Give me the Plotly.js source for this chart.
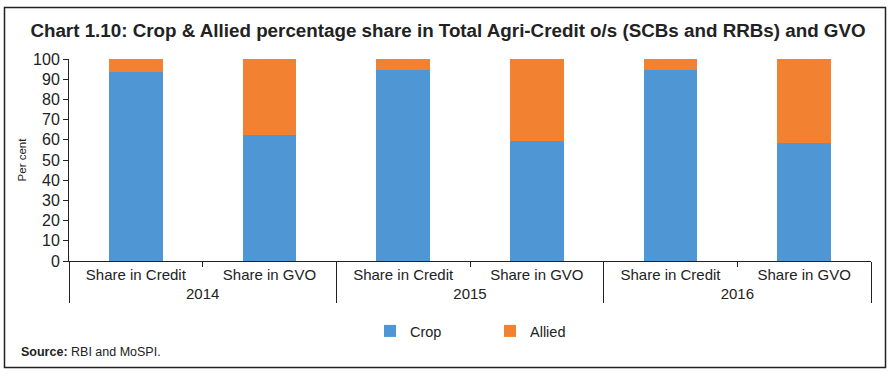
<!DOCTYPE html>
<html>
<head>
<meta charset="utf-8">
<script src="https://cdn.plot.ly/plotly-3.0.1.min.js"></script>
<style>html,body{margin:0;padding:0;background:#fff;}#chart{width:896px;height:379px;}</style>
</head>
<body>
<div id="chart"></div>
<script>
var years = ["2014", "2014", "2015", "2015", "2016", "2016"];
var categories = ["Share in Credit", "Share in GVO", "Share in Credit", "Share in GVO", "Share in Credit", "Share in GVO"];
var cropValues = [93.5, 62.3, 94.5, 59.5, 94.6, 58.2];
var alliedValues = cropValues.map(function (v) { return Math.round((100 - v) * 10) / 10; });
var yTicks = [0, 10, 20, 30, 40, 50, 60, 70, 80, 90, 100];

var W = 896, H = 379, L = 69, R = 25, T = 59, B = 118;
var pw = W - L - R, ph = H - T - B;
function px(x) { return (x - L) / pw; }
function py(y) { return (H - B - y) / ph; }

var font = "Liberation Sans, Arial, sans-serif";
var data = [
  { type: "bar", name: "Crop", x: [years, categories], y: cropValues, marker: { color: "#4F96D4" }, legend: "legend" },
  { type: "bar", name: "Allied", x: [years, categories], y: alliedValues, marker: { color: "#F28232" }, legend: "legend2" }
];
var legStyle = { font: { size: 14.5, family: font, color: "#222" }, bgcolor: "rgba(0,0,0,0)", itemwidth: 30, xanchor: "left", yanchor: "middle", y: py(331) };
var layout = {
  width: W, height: H,
  margin: { l: L, r: R, t: T, b: B, pad: 0 },
  barmode: "stack",
  bargap: 0.6,
  paper_bgcolor: "#fff", plot_bgcolor: "#fff",
  font: { family: font, color: "#222", size: 14 },
  showlegend: true,
  legend: Object.assign({}, legStyle, { x: px(370) }),
  legend2: Object.assign({}, legStyle, { x: px(490) }),
  xaxis: {
    type: "multicategory",
    showline: true, linecolor: "#222", linewidth: 1,
    ticks: "outside", ticklen: 5, tickcolor: "#222",
    showdividers: true, dividercolor: "#222", dividerwidth: 1,
    tickfont: { size: 15, family: font, color: "#222" },
    showgrid: false, zeroline: false
  },
  yaxis: {
    range: [0, 100], tickvals: yTicks, ticktext: yTicks.map(String),
    showline: true, linecolor: "#222", linewidth: 1,
    ticks: "outside", ticklen: 5, tickcolor: "#222",
    tickfont: { size: 16, family: font, color: "#222" },
    showgrid: false, zeroline: false,
    title: { text: "Per cent", font: { size: 11.5, family: font, color: "#222" }, standoff: 4 }
  },
  title: {
    text: "<b>Chart 1.10: Crop & Allied percentage share in Total Agri-Credit o/s (SCBs and RRBs) and GVO</b>",
    font: { size: 18.8, family: "Liberation Sans Narrow, Arial Narrow, Liberation Sans, sans-serif", color: "#222" },
    x: 0.5, xref: "container", xanchor: "center", y: 1 - 30 / H, yref: "container", yanchor: "middle"
  },
  annotations: [
    { text: "<b>Source:</b> RBI and MoSPI.", xref: "paper", yref: "paper", x: px(19), y: py(352), xanchor: "left", yanchor: "middle", showarrow: false, font: { size: 12.5, family: font, color: "#222" } }
  ],
  shapes: [
    { type: "rect", xref: "paper", yref: "paper", x0: px(4.5), x1: px(885.5), y0: py(7.5), y1: py(367.5), line: { color: "#222", width: 1.5 }, fillcolor: "rgba(0,0,0,0)", layer: "below" }
  ]
};
Plotly.newPlot("chart", data, layout, { displayModeBar: false, staticPlot: true });
</script>
</body>
</html>
